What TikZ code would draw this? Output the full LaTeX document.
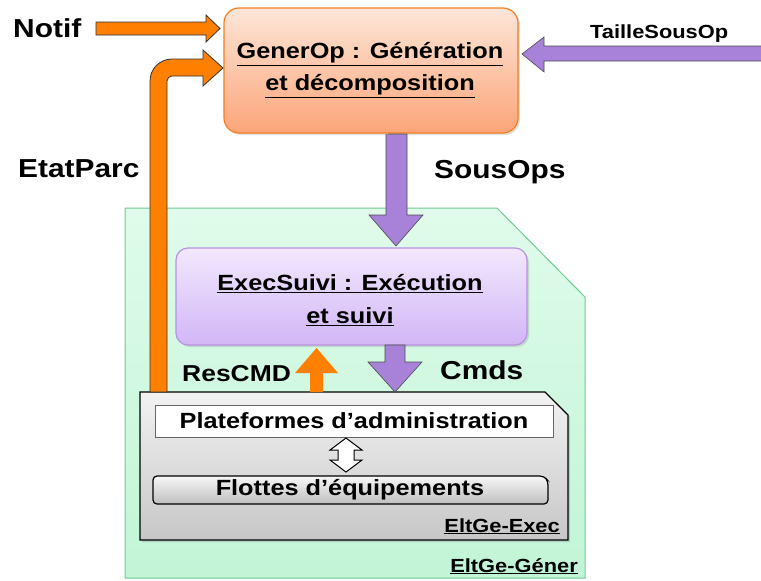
\documentclass[tikz,border=0pt]{standalone}
\usepackage{fontspec}
\setmainfont[FakeStretch=1.15]{Liberation Sans}
\usetikzlibrary{shadows}
\definecolor{orA}{HTML}{FF7F00}
\definecolor{puA}{HTML}{A782D8}
\definecolor{genTop}{HTML}{FDE6D8}
\definecolor{genBot}{HTML}{FBA579}
\definecolor{genBd}{HTML}{F47F22}
\definecolor{exTop}{HTML}{F2E8FD}
\definecolor{exBot}{HTML}{D2B6F6}
\definecolor{exBd}{HTML}{B892E2}
\definecolor{grTop}{HTML}{E0FBEB}
\definecolor{grBot}{HTML}{C1F5D6}
\definecolor{grBd}{HTML}{6CCB93}
\tikzset{
  x=1pt,y=-1pt,
  orarrow/.style={fill=orA,draw=black!80,line width=0.8pt,line join=miter},
  puarrow/.style={fill=puA,draw=black!70,line width=0.6pt,line join=miter},
  lbl/.style={font=\fontsize{26}{30}\selectfont\bfseries,inner sep=0pt},
  smlbl/.style={font=\fontsize{19}{22}\selectfont\bfseries,inner sep=0pt},
  boxtxt/.style={font=\fontsize{22}{32}\selectfont\bfseries,align=center,inner sep=0pt},
}
\begin{document}
\begin{tikzpicture}
\useasboundingbox (0,0) rectangle (761,581);
% green container
\path[draw=grBd,line width=1pt,top color=grTop,bottom color=grBot]
  (125,208) -- (497,208) -- (585,297) -- (585,578) -- (125,578) -- cycle;
\node[smlbl,anchor=base east] (gener) at (578,572) {\underline{EltGe-Géner}};
% GenerOp
\node[draw=genBd,line width=1.2pt,rounded corners=15pt,top color=genTop,bottom color=genBot,
  minimum width=294pt,minimum height=125pt,drop shadow={opacity=0.25,shadow xshift=2pt,shadow yshift=-2pt}] (gen) at (371,70.5) {};
\node[boxtxt] (gentxt) at (370,70) {\underline{GenerOp : Génération}\\\underline{et décomposition}};
% ExecSuivi
\node[draw=exBd,line width=1.2pt,rounded corners=12pt,top color=exTop,bottom color=exBot,
  minimum width=351pt,minimum height=97pt,drop shadow={opacity=0.25,shadow xshift=2pt,shadow yshift=-2pt}] (exec) at (351.5,296.5) {};
\node[boxtxt,font=\fontsize{22}{33}\selectfont\bfseries] (exectxt) at (350,300) {\underline{ExecSuivi : Exécution}\\\underline{et suivi}};
% Gray box
\path[draw=black,line width=1.4pt,top color=black!5,bottom color=black!22,
  drop shadow={opacity=0.3,shadow xshift=2pt,shadow yshift=-2pt}]
  (140,392) -- (545,392) -- (568,415) -- (568,540) -- (140,540) -- cycle;
\node[smlbl,anchor=base east] (exectag) at (560,532) {\underline{EltGe-Exec}};
\node[draw=black!60,line width=0.6pt,fill=white,minimum width=398pt,minimum height=32pt,inner sep=0pt] (plat) at (354,421) {};
\node[font=\fontsize{22}{24}\selectfont\bfseries] at (plat) {Plateformes d’administration};
\path[draw=black,line width=1.2pt,top color=black!3,bottom color=black!25,rounded corners=4pt]
  (153,476) -- (544,476) -- (548,481) -- (548,504) -- (153,504) -- cycle;
\node[font=\fontsize{22}{24}\selectfont\bfseries] (flot) at (350,490) {Flottes d’équipements};
% double arrow
\path[draw=black,fill=white,line width=1pt,line join=miter]
  (346,438) -- (362,450) -- (354,450) -- (354,460) -- (362,460) -- (346,472)
  -- (330,460) -- (338,460) -- (338,450) -- (330,450) -- cycle;
% Notif arrow
\node[lbl,anchor=base west] (notif) at (13,37) {Notif};
\path[orarrow] (96,22) -- (206,22) -- (206,15) -- (220,28.5) -- (206,42) -- (206,35) -- (96,35) -- cycle;
% EtatParc bent arrow
\node[lbl,anchor=base west] (etat) at (18,177) {EtatParc};
\path[orarrow] (150,392) -- (150,81) arc[start angle=180,end angle=270,radius=22] -- (203,59) -- (203,50)
  -- (223,68) -- (203,86) -- (203,76) -- (172,76) arc[start angle=270,end angle=180,radius=5] -- (167,392) -- cycle;
% TailleSousOp arrow
\node[smlbl,anchor=base west] (taille) at (590,38) {TailleSousOp};
\path[puarrow] (761,46) -- (544,46) -- (544,37) -- (522,54) -- (544,72) -- (544,61) -- (761,61);
% SousOps arrow
\node[lbl,anchor=base west] (sousops) at (434,178) {SousOps};
\path[puarrow] (388,134) -- (407,134) -- (407,215) -- (423,215) -- (396,246) -- (369,215) -- (386,215) -- (386,134);
% Cmds arrow
\node[lbl,anchor=base west] (cmds) at (440,379) {Cmds};
\path[puarrow] (385,345) -- (405,345) -- (405,362) -- (422,362) -- (395,392) -- (368,362) -- (385,362) -- cycle;
% ResCMD arrow
\node[font=\fontsize{23}{26}\selectfont\bfseries,inner sep=0pt,anchor=base west] (rescmd) at (182,381) {ResCMD};
\path[fill=orA] (310,392) -- (310,373) -- (295,373) -- (316.5,348) -- (338,373) -- (323,373) -- (323,392) -- cycle;
\end{tikzpicture}
\end{document}
